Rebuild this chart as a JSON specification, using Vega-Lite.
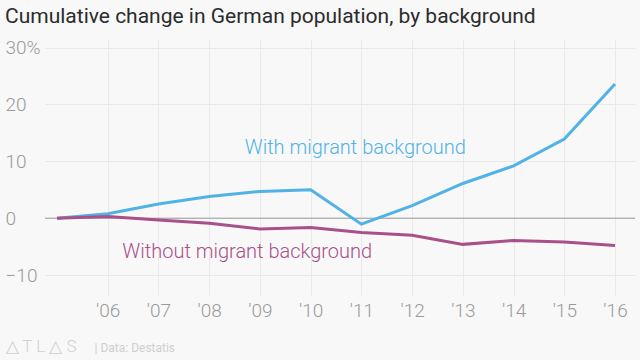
{
  "$schema": "https://vega.github.io/schema/vega-lite/v6.json",
  "autosize": "none",
  "width": 590,
  "height": 256,
  "padding": {"left": 45, "top": 39, "right": 5, "bottom": 65},
  "background": "#f8f8f8",
  "title": {
    "text": "Cumulative change in German population, by background",
    "anchor": "start",
    "frame": "group",
    "dx": -40,
    "offset": 12,
    "font": "Roboto",
    "fontSize": 21,
    "fontWeight": "normal",
    "color": "#2b2b2b"
  },
  "config": {
    "view": {"stroke": null},
    "axis": {"domain": false, "ticks": false, "tickSize": 0, "gridColor": "#e9e9e9", "gridWidth": 1, "labelFont": "Roboto", "labelFontWeight": 300, "labelColor": "#9a9a9a"}
  },
  "datasets": {
    "series": [
      {"year": 2005, "value": 0, "series": "With"},
      {"year": 2006, "value": 0.8, "series": "With"},
      {"year": 2007, "value": 2.5, "series": "With"},
      {"year": 2008, "value": 3.8, "series": "With"},
      {"year": 2009, "value": 4.7, "series": "With"},
      {"year": 2010, "value": 5.0, "series": "With"},
      {"year": 2011, "value": -1.05, "series": "With"},
      {"year": 2012, "value": 2.2, "series": "With"},
      {"year": 2013, "value": 6.1, "series": "With"},
      {"year": 2014, "value": 9.2, "series": "With"},
      {"year": 2015, "value": 13.9, "series": "With"},
      {"year": 2016, "value": 23.6, "series": "With"},
      {"year": 2005, "value": 0, "series": "Without"},
      {"year": 2006, "value": 0.3, "series": "Without"},
      {"year": 2007, "value": -0.3, "series": "Without"},
      {"year": 2008, "value": -0.9, "series": "Without"},
      {"year": 2009, "value": -1.9, "series": "Without"},
      {"year": 2010, "value": -1.65, "series": "Without"},
      {"year": 2011, "value": -2.5, "series": "Without"},
      {"year": 2012, "value": -3.0, "series": "Without"},
      {"year": 2013, "value": -4.6, "series": "Without"},
      {"year": 2014, "value": -3.9, "series": "Without"},
      {"year": 2015, "value": -4.2, "series": "Without"},
      {"year": 2016, "value": -4.8, "series": "Without"}
    ],
    "labels": [
      {"year": 2010.88, "value": 12.35, "series": "With", "label": "With migrant background"},
      {"year": 2008.75, "value": -5.9, "series": "Without", "label": "Without migrant background"}
    ]
  },
  "layer": [
    {
      "data": {"values": [{"zero": 0}]},
      "mark": {"type": "rule", "color": "#9a9a9a", "strokeWidth": 1},
      "encoding": {"y": {"field": "zero", "type": "quantitative", "scale": {"domain": [-13.5, 31.5], "nice": false, "zero": false}}}
    },
    {
      "data": {"name": "series"},
      "mark": {"type": "line", "strokeWidth": 3, "strokeJoin": "miter"},
      "encoding": {
        "x": {
          "field": "year", "type": "quantitative",
          "scale": {"domain": [2004.763, 2016.394], "nice": false, "zero": false},
          "axis": {
            "values": [2006, 2007, 2008, 2009, 2010, 2011, 2012, 2013, 2014, 2015, 2016],
            "labelExpr": "\"'\" + substring(toString(datum.value), 2, 4)",
            "labelFontSize": 19,
            "labelPadding": 6,
            "labelBaseline": "top",
            "grid": true,
            "title": "△ T L △ S",
            "titleFont": "Roboto",
            "titleFontWeight": 300,
            "titleFontSize": 17,
            "titleColor": "#d0d0d0",
            "titleAnchor": "start",
            "titleAlign": "left",
            "titleX": -40,
            "titleY": 51,
            "titleBaseline": "middle"
          }
        },
        "y": {
          "field": "value", "type": "quantitative",
          "scale": {"domain": [-13.5, 31.5], "nice": false, "zero": false},
          "axis": {
            "values": [-10, 0, 10, 20, 30],
            "labelExpr": "datum.value == 30 ? '30%' : datum.label",
            "labelAlign": "left",
            "labelBaseline": "middle",
            "labelPadding": 40,
            "labelFontSize": 19,
            "grid": true,
            "title": "|   Data: Destatis",
            "titleAngle": 0,
            "titleFont": "Roboto",
            "titleFontWeight": "normal",
            "titleFontSize": 12,
            "titleColor": "#cfcfcf",
            "titleAlign": "left",
            "titleBaseline": "middle",
            "titleX": 49,
            "titleY": 308
          }
        },
        "color": {"field": "series", "type": "nominal", "scale": {"domain": ["With", "Without"], "range": ["#51b2e5", "#a9508a"]}, "legend": null}
      }
    },
    {
      "data": {"name": "labels"},
      "mark": {"type": "text", "font": "Roboto", "fontSize": 20, "fontWeight": 300, "align": "center", "baseline": "middle"},
      "encoding": {
        "x": {"field": "year", "type": "quantitative"},
        "y": {"field": "value", "type": "quantitative"},
        "text": {"field": "label"},
        "color": {"field": "series", "type": "nominal", "legend": null}
      }
    }
  ]
}
